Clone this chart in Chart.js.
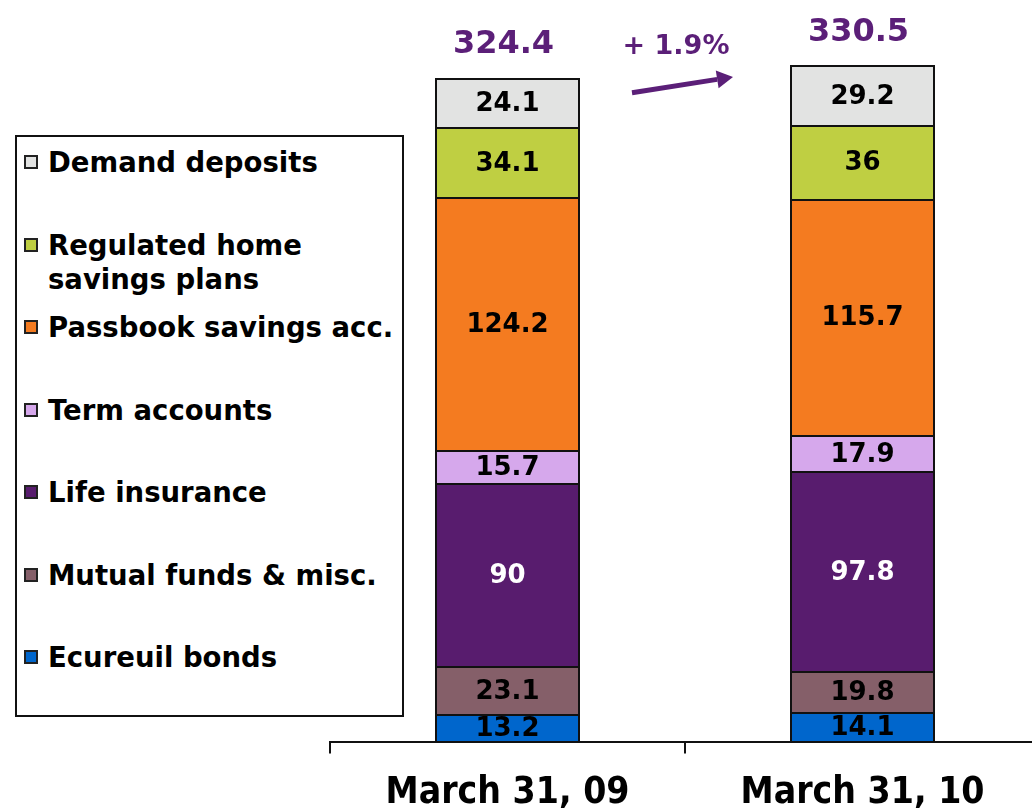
<!DOCTYPE html>
<html>
<head>
<meta charset="utf-8">
<title>Savings outstanding</title>
<script src="https://cdn.jsdelivr.net/npm/chart.js@4/dist/chart.umd.min.js"></script>
<style>
    html, body { margin: 0; padding: 0; background: #fff; overflow: hidden; }
    #wrap { position: relative; width: 1032px; height: 811px; overflow: hidden; }
    #chart { position: absolute; left: 0; top: 0; }
    #legend {
        position: absolute; left: 15px; top: 135px; width: 389px; height: 582px;
        box-sizing: border-box; border: 2px solid #111; background: #fff;
        font-family: "DejaVu Sans", Verdana, sans-serif; font-weight: bold; font-size: 27.5px; color: #000;
    }
    .item { position: absolute; left: 0; width: 380px; line-height: 34px; }
    .item .box {
        position: absolute; left: 7px; top: 10px; width: 14px; height: 14px;
        box-sizing: border-box; border: 2px solid #222;
    }
    .item .txt { position: absolute; left: 31px; top: 0; white-space: nowrap; }
</style>
</head>
<body>
<div id="wrap">
    <canvas id="chart" width="1040" height="834"></canvas>
    <div id="legend"></div>
</div>
<script>
    // data, bottom of the stack first
    var categories = ["March 31, 09", "March 31, 10"];
    var seriesNames = ["Ecureuil bonds", "Mutual funds & misc.", "Life insurance", "Term accounts",
        "Passbook savings acc.", "Regulated home savings plans", "Demand deposits"];
    var ecureuilBonds = [13.2, 14.1];
    var mutualFunds = [23.1, 19.8];
    var lifeInsurance = [90, 97.8];
    var termAccounts = [15.7, 17.9];
    var passbookSavings = [124.2, 115.7];
    var homeSavingsPlans = [34.1, 36];
    var demandDeposits = [24.1, 29.2];
    var totals = ["324.4", "330.5"];
    var growthLabel = "+ 1.9%";

    var seriesValues = [ecureuilBonds, mutualFunds, lifeInsurance, termAccounts,
        passbookSavings, homeSavingsPlans, demandDeposits];
    var colors = ["#0066cc", "#855f69", "#581c6e", "#d6a8ec", "#f47b20", "#bfcf42", "#e2e3e2"];
    var labelColors = ["#000", "#000", "#fff", "#000", "#000", "#000", "#000"];
    var purple = "#5b1f78";

    // Legend (top to bottom = reverse of stack)
    var legendLines = {"Regulated home savings plans": "Regulated home<br>savings plans"};
    var legend = document.getElementById("legend");
    for (var k = seriesNames.length - 1, n = 0; k >= 0; k--, n++) {
        var it = document.createElement("div");
        it.className = "item";
        it.style.top = (8 + n * 82.5) + "px";
        it.innerHTML = '<span class="box" style="background:' + colors[k] + '"></span>' +
            '<span class="txt">' + (legendLines[seriesNames[k]] || seriesNames[k].replace("&", "&amp;")) + '</span>';
        legend.appendChild(it);
    }

    // outlines, labels inside the bars, totals on top and the growth arrow
    var barLabels = {
        id: "barLabels",
        afterDatasetsDraw: function (chart) {
            var ctx = chart.ctx;
            var y = chart.scales.y;
            ctx.save();

            // crisp 2px outline round every segment
            ctx.strokeStyle = "#111";
            ctx.lineWidth = 2;
            chart.data.datasets.forEach(function (ds, i) {
                chart.getDatasetMeta(i).data.forEach(function (bar) {
                    var l = Math.round(bar.x - bar.width / 2), r = Math.round(bar.x + bar.width / 2);
                    var t = Math.round(bar.y), b = Math.round(bar.base);
                    ctx.strokeRect(l, t, r - l, b - t);
                });
            });

            ctx.textAlign = "center";
            ctx.textBaseline = "middle";
            ctx.font = 'bold 26px "DejaVu Sans"';
            chart.data.datasets.forEach(function (ds, i) {
                chart.getDatasetMeta(i).data.forEach(function (bar, j) {
                    var c = bar.getCenterPoint();
                    ctx.fillStyle = labelColors[i];
                    ctx.fillText(String(ds.data[j]), c.x, c.y + 1);
                });
            });

            var top = chart.getDatasetMeta(chart.data.datasets.length - 1).data;
            ctx.fillStyle = purple;
            ctx.font = 'bold 32px "DejaVu Sans"';
            top.forEach(function (bar, j) {
                ctx.fillText(totals[j], bar.x - 4, bar.y - 34);
            });

            var midX = (top[0].x + top[1].x) / 2;
            ctx.font = 'bold 27px "DejaVu Sans"';
            ctx.fillText(growthLabel, midX - 9, y.getPixelForValue(340));

            var x0 = midX - 53, y0 = y.getPixelForValue(317.5);
            var x1 = midX + 48, y1 = y.getPixelForValue(325.3);
            var a = Math.atan2(y1 - y0, x1 - x0);
            var hl = 16, hw = 9;
            var bx = x1 - hl * Math.cos(a), by = y1 - hl * Math.sin(a);
            ctx.strokeStyle = purple;
            ctx.lineWidth = 5;
            ctx.beginPath();
            ctx.moveTo(x0, y0);
            ctx.lineTo(bx, by);
            ctx.stroke();
            ctx.beginPath();
            ctx.moveTo(x1, y1);
            ctx.lineTo(bx + hw * Math.sin(a), by - hw * Math.cos(a));
            ctx.lineTo(bx - hw * Math.sin(a), by + hw * Math.cos(a));
            ctx.closePath();
            ctx.fill();
            ctx.restore();
        }
    };

    var datasets = seriesNames.map(function (name, i) {
        return {
            label: name,
            data: seriesValues[i],
            backgroundColor: colors[i],
            borderWidth: 0,
            barThickness: 143
        };
    });

    var ctx1 = document.getElementById("chart").getContext("2d");
    var myChart1 = new Chart(ctx1, {
        type: "bar",
        data: { labels: categories, datasets: datasets },
        options: {
            responsive: false,
            devicePixelRatio: 1,
            animation: false,
            layout: { padding: { left: 330, top: 6, right: 0, bottom: 0 } },
            plugins: { legend: { display: false }, tooltip: { enabled: false } },
            scales: {
                x: {
                    stacked: true,
                    grid: { drawOnChartArea: false, offset: true, tickLength: 12, color: "#111", lineWidth: 2 },
                    border: { display: true, color: "#111", width: 2 },
                    ticks: {
                        color: "#000",
                        padding: 18,
                        font: { family: '"DejaVu Sans Condensed", "DejaVu Sans", sans-serif', weight: "bold", size: 37 }
                    }
                },
                y: { stacked: true, display: false, min: 0, max: 360 }
            }
        },
        plugins: [barLabels]
    });
</script>
</body>
</html>
